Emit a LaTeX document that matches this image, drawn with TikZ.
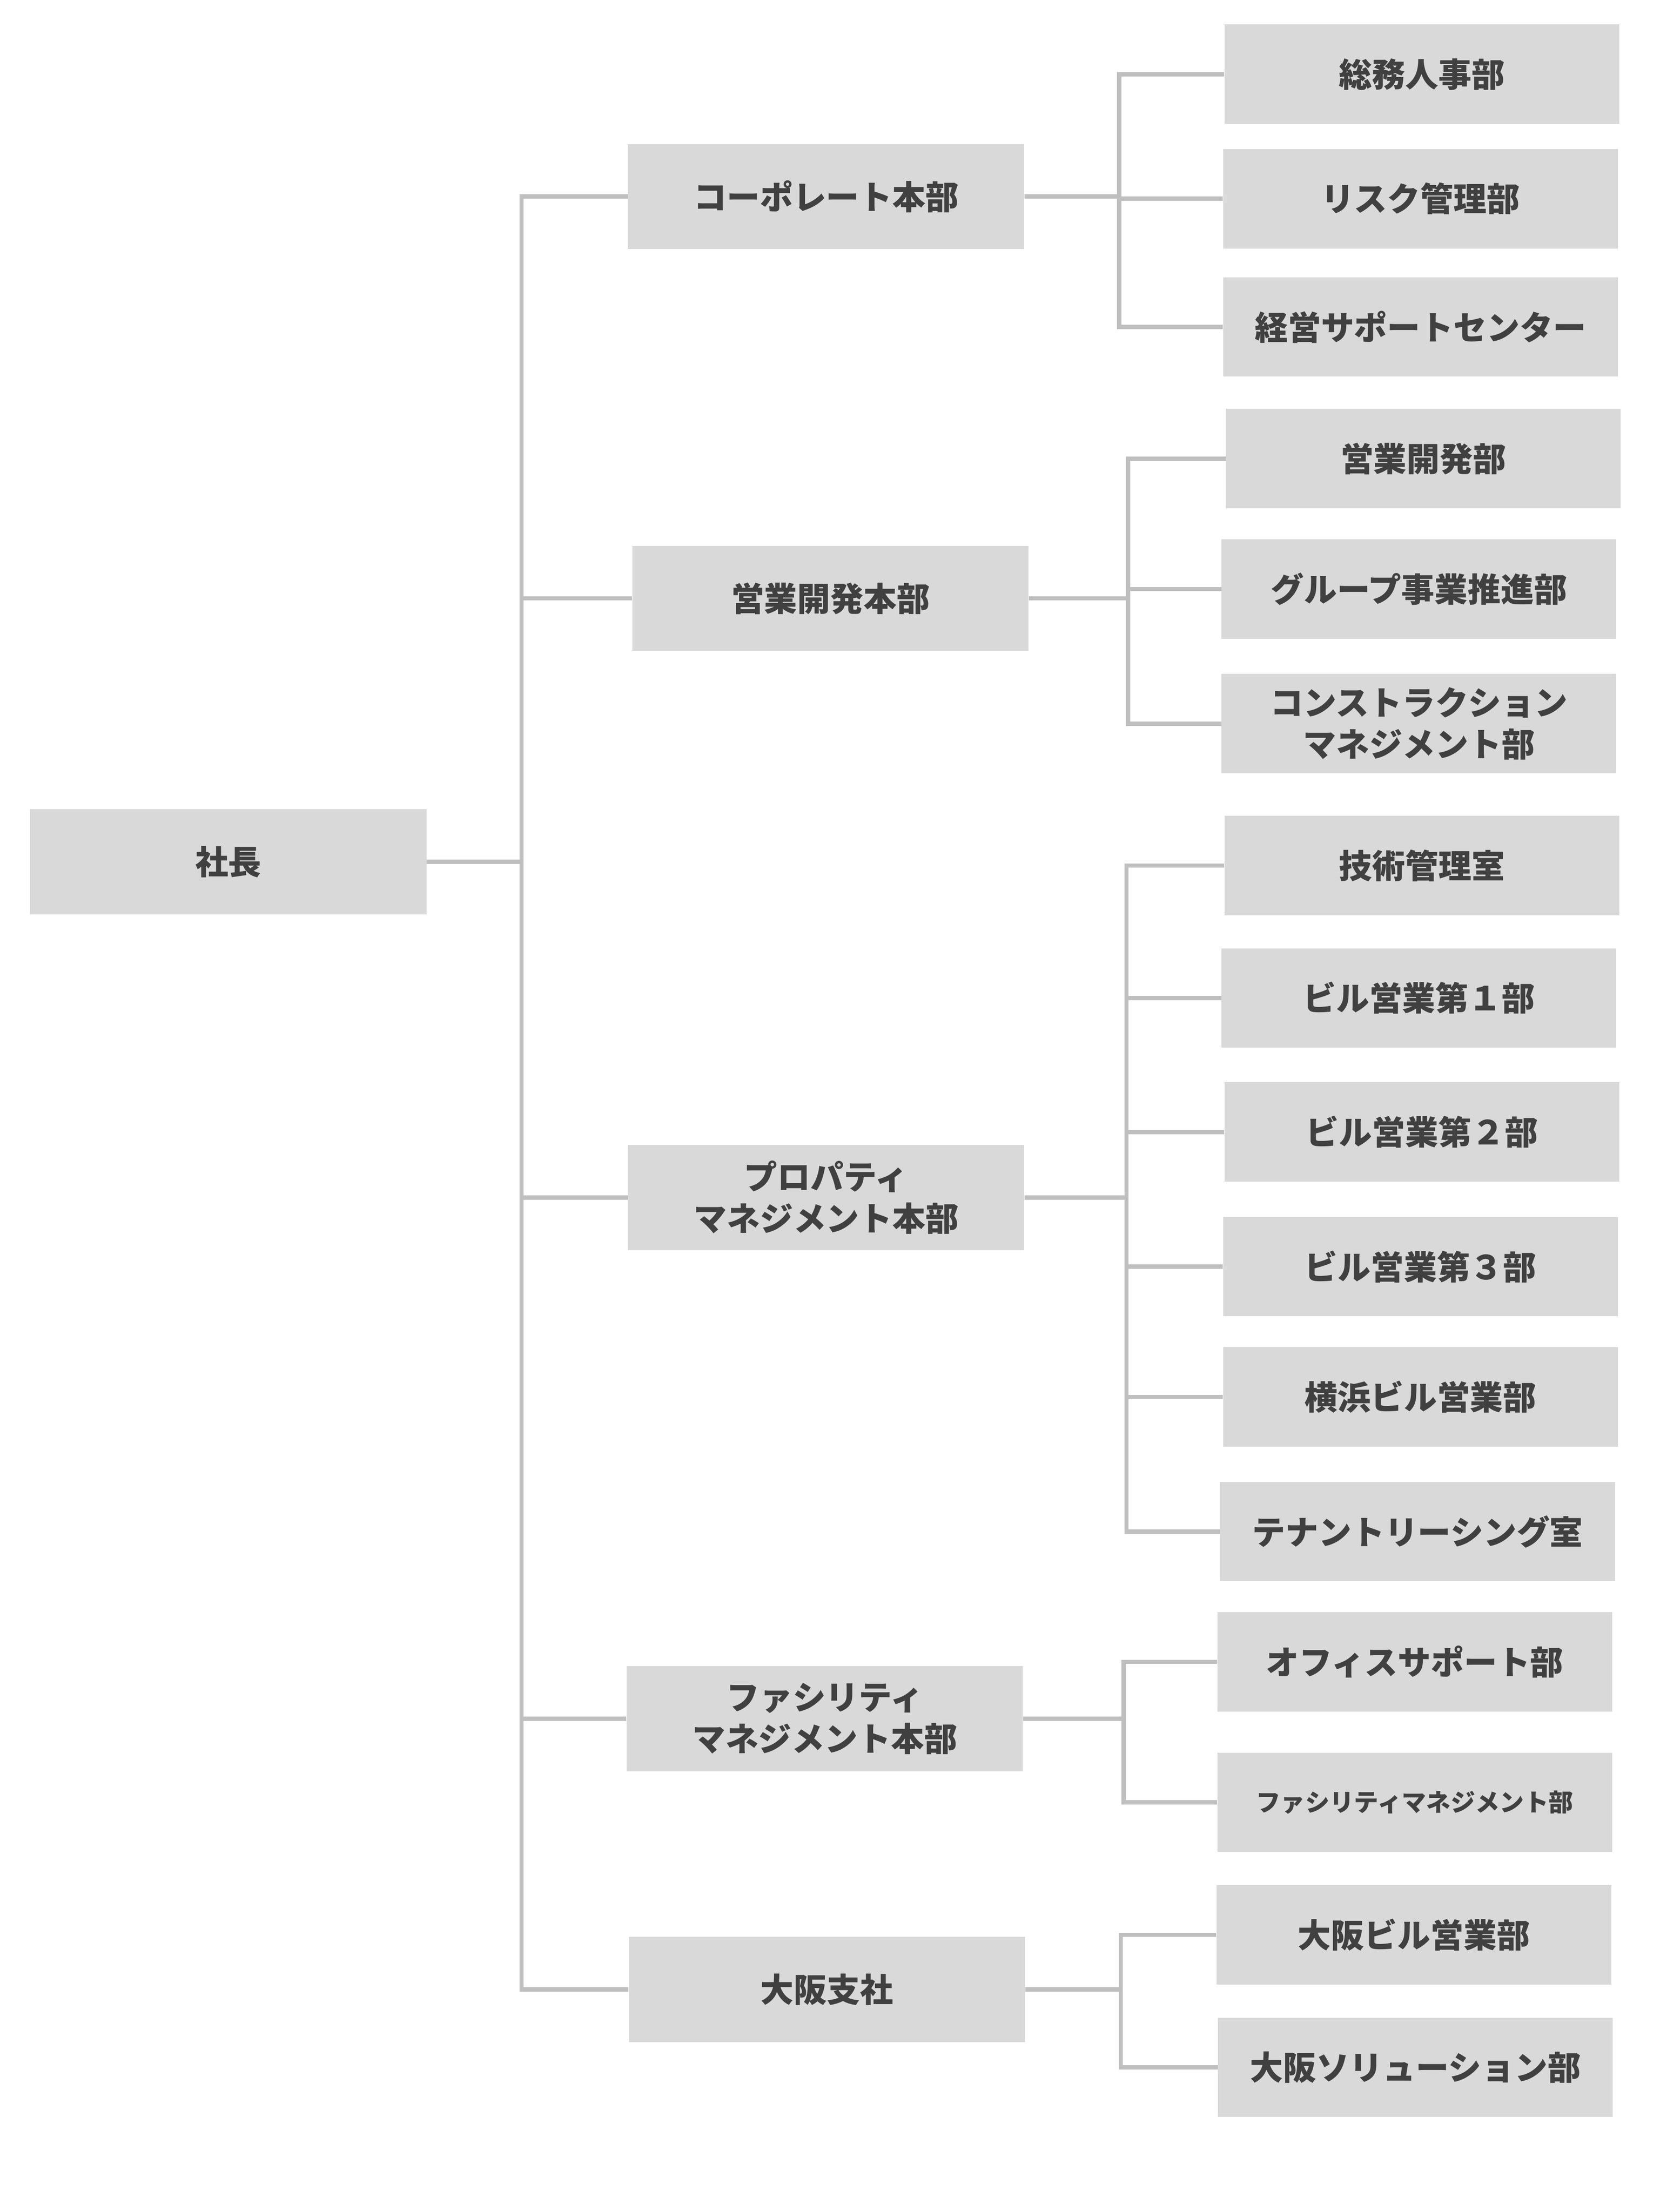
\documentclass[tikz,border=0pt]{standalone}
\usepackage{fontspec}
\newfontfamily\jp{Noto Sans CJK JP}
\definecolor{boxfill}{HTML}{D9D9D9}
\definecolor{linec}{HTML}{BFBFBF}
\definecolor{txt}{HTML}{404040}
\tikzset{
  unit/.style={fill=boxfill, draw=none, inner sep=0pt, align=center, text=txt,
    font=\jp\bfseries\fontsize{23}{29}\selectfont},
  top/.style={unit, minimum width=275pt, minimum height=73pt},
  sub/.style={unit, minimum width=274pt, minimum height=69pt},
  link/.style={draw=linec, line width=3pt}
}
\begin{document}
\begin{tikzpicture}[x=1pt,y=-1pt]
\useasboundingbox (0,0) rectangle (1152,1536);
% nodes
\node[top] (boss) at (158.5,598.5) {社長};
\node[top] (corp) at (573.5,136.5) {コーポレート本部};
\node[top] (sales) at (576.5,415.5) {営業開発本部};
\node[top] (prop) at (573.5,831.5) {プロパティ\\マネジメント本部};
\node[top] (fac) at (572.5,1193.5) {ファシリティ\\マネジメント本部};
\node[top] (osaka) at (574,1381.5) {大阪支社};
\node[sub] (c1) at (987,51.5) {総務人事部};
\node[sub] (c2) at (986,138) {リスク管理部};
\node[sub] (c3) at (986,227) {経営サポートセンター};
\node[sub] (s1) at (988,318.5) {営業開発部};
\node[sub] (s2) at (985,409) {グループ事業推進部};
\node[sub] (s3) at (985,502.5) {コンストラクション\\マネジメント部};
\node[sub] (p1) at (987,601) {技術管理室};
\node[sub] (p2) at (985,693) {ビル営業第１部};
\node[sub] (p3) at (987,786) {ビル営業第２部};
\node[sub] (p4) at (986,879.5) {ビル営業第３部};
\node[sub] (p5) at (986,970) {横浜ビル営業部};
\node[sub] (p6) at (984,1063.5) {テナントリーシング室};
\node[sub] (f1) at (982,1154) {オフィスサポート部};
\node[sub, font=\jp\bfseries\fontsize{17}{21}\selectfont] (f2) at (982,1251.5) {ファシリティマネジメント部};
\node[sub] (o1) at (981.5,1343.5) {大阪ビル営業部};
\node[sub] (o2) at (982.5,1435.5) {大阪ソリューション部};
% bus coordinates
\coordinate (b0) at (362,0);
\coordinate (b1) at (777,0);
\coordinate (b2) at (783,0);
\coordinate (b3) at (782,0);
\coordinate (b4) at (780,0);
\coordinate (b5) at (778,0);
% connectors
\foreach \c in {corp,sales,prop,fac,osaka}
  \draw[link] (boss.east) -- (boss.east -| b0) |- (\c.west);
\foreach \c in {c1,c2,c3}
  \draw[link] (corp.east) -- (corp.east -| b1) |- (\c.west);
\foreach \c in {s1,s2,s3}
  \draw[link] (sales.east) -- (sales.east -| b2) |- (\c.west);
\foreach \c in {p1,p2,p3,p4,p5,p6}
  \draw[link] (prop.east) -- (prop.east -| b3) |- (\c.west);
\foreach \c in {f1,f2}
  \draw[link] (fac.east) -- (fac.east -| b4) |- (\c.west);
\foreach \c in {o1,o2}
  \draw[link] (osaka.east) -- (osaka.east -| b5) |- (\c.west);
\end{tikzpicture}
\end{document}
